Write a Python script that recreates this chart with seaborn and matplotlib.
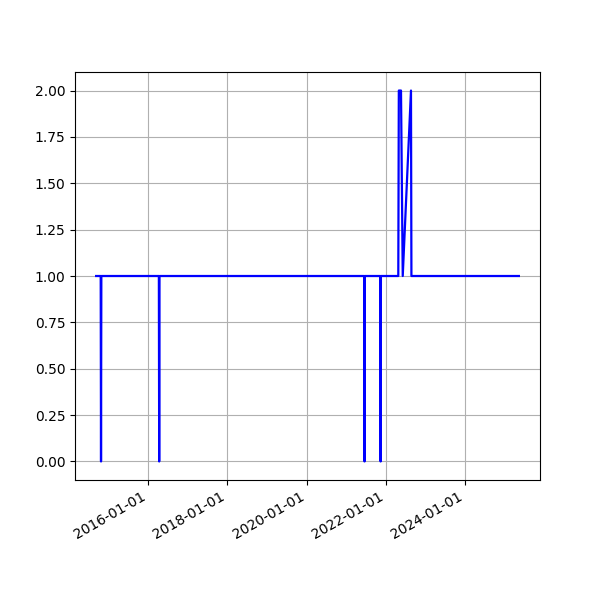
import numpy as np
import pandas as pd
import matplotlib
matplotlib.use("Agg")
import matplotlib.pyplot as plt
import matplotlib.dates as mdates
import seaborn as sns

dates = [
    "2014-09-10", "2014-10-22", "2014-10-25", "2014-10-28",
    "2016-04-10", "2016-04-13", "2016-04-16",
    "2021-06-15", "2021-06-18", "2021-06-21",
    "2021-11-10", "2021-11-13", "2021-11-16",
    "2022-04-25", "2022-04-30", "2022-05-20", "2022-06-05",
    "2022-08-20", "2022-08-24",
    "2025-05-10",
]
counts = [
    1, 1, 0, 1,
    1, 0, 1,
    1, 0, 1,
    1, 0, 1,
    1, 2, 2, 1,
    2, 1,
    1,
]

df = pd.DataFrame({"date": pd.to_datetime(dates), "count": counts})

fig, ax = plt.subplots(figsize=(6, 6), dpi=100)
sns.lineplot(data=df, x="date", y="count", color="blue", linewidth=1.6,
             estimator=None, ax=ax)
ax.set_xlabel("")
ax.set_ylabel("")
ax.set_yticks(np.arange(0, 2.01, 0.25))
ax.yaxis.set_major_formatter(matplotlib.ticker.FormatStrFormatter("%.2f"))
ax.xaxis.set_major_locator(mdates.YearLocator(2))
ax.xaxis.set_major_formatter(mdates.DateFormatter("%Y-%m-%d"))
ax.grid(True)
fig.autofmt_xdate()
fig.savefig("out.png", dpi=100)
